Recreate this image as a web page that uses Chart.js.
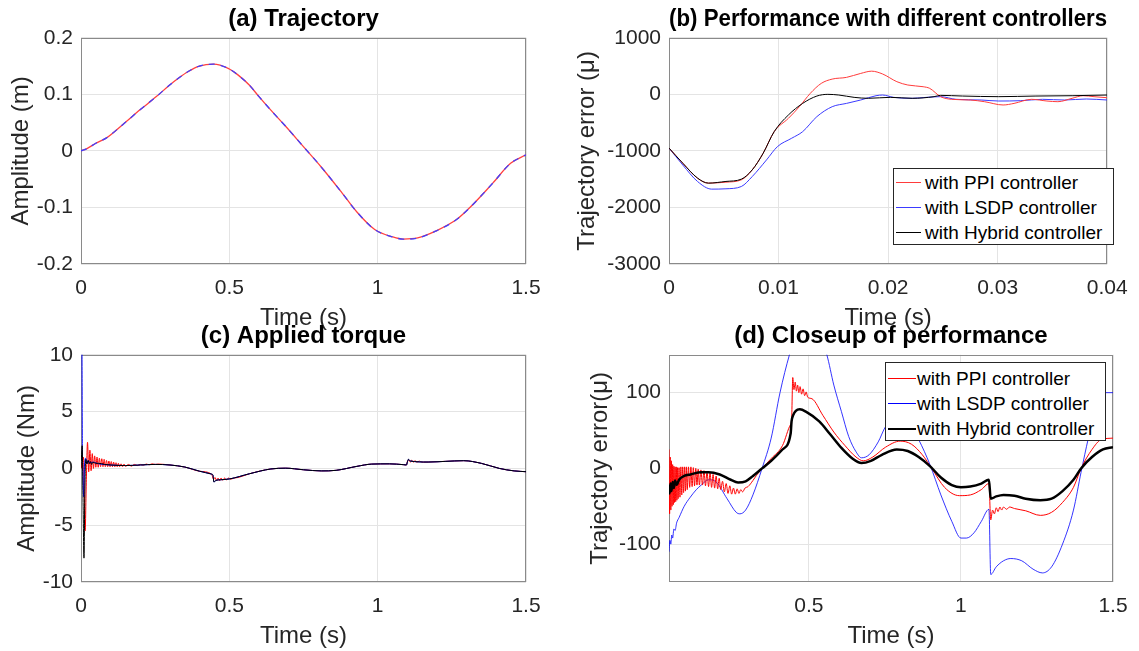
<!DOCTYPE html>
<html>
<head>
<meta charset="utf-8">
<script src="https://cdn.jsdelivr.net/npm/chart.js@4/dist/chart.umd.min.js"></script>
<style>
  body { margin: 0; background: #fff; width: 1139px; height: 651px; overflow: hidden; position: relative;
         font-family: "Liberation Sans", Arial, Helvetica, sans-serif; }
  canvas.panel { position: absolute; }
  .legend { position: absolute; background: #fff; border: 1px solid #262626; box-sizing: border-box;
            font-size: 19px; color: #000; white-space: nowrap; }
  .legend .row { height: 25px; display: flex; align-items: center; }
  .legend .swatch { display: inline-block; height: 0; }
</style>
</head>
<body>
<canvas id="trajectory" class="panel"></canvas>
<canvas id="controllers" class="panel"></canvas>
<canvas id="torque" class="panel"></canvas>
<canvas id="closeup" class="panel"></canvas>
<div id="legendB" class="legend" style="left:893px;top:168px;width:221px;height:77px;padding:1px 0 0 2px"></div>
<div id="legendD" class="legend" style="left:885px;top:362px;width:221px;height:79px;padding:3px 0 0 2px"></div>
<script>
// ---- tick values ----
const timeTicks = [0, 0.5, 1, 1.5];
const posTicks = [-0.2, -0.1, 0, 0.1, 0.2];
const shortTimeTicks = [0, 0.01, 0.02, 0.03, 0.04];
const errTicks = [-3000, -2000, -1000, 0, 1000];
const torqueTicks = [-10, -5, 0, 5, 10];
const closeTimeTicks = [0.5, 1, 1.5];
const closeErrTicks = [-100, 0, 100];

// (a) trajectory: [t (s), position (m)]
const trajectory = [[0,0],[0.02,0.004],[0.05,0.0135],[0.086,0.023],[0.146,0.049],[0.2,0.073],[0.254,0.096],
  [0.3,0.117],[0.327,0.128],[0.36,0.14],[0.399,0.15],[0.447,0.1535],[0.496,0.146],[0.53,0.134],[0.568,0.116],
  [0.6,0.096],[0.64,0.072],[0.689,0.044],[0.749,0.008],[0.809,-0.028],[0.881,-0.075],[0.93,-0.108],[0.99,-0.139],
  [1.05,-0.152],[1.086,-0.156],[1.135,-0.154],[1.195,-0.142],[1.267,-0.121],[1.315,-0.098],[1.388,-0.057],
  [1.448,-0.022],[1.5,-0.007]];

// (b) trajectory error over the first 40 ms: [t (s), error]
const ppiError = [[0,-950],[0.00126,-1218],[0.0026,-1482],[0.0036,-1570],[0.0052,-1553],[0.0066,-1512],
  [0.0076,-1335],[0.0086,-1040],[0.0096,-660],[0.0109,-424],[0.0119,-218],[0.0129,18],[0.0139,194],[0.0149,270],
  [0.0162,300],[0.0175,370],[0.0185,410],[0.0195,360],[0.0208,224],[0.0218,165],[0.0232,135],[0.0238,106],
  [0.0248,-41],[0.0258,-88],[0.0275,-100],[0.0288,-130],[0.0305,-188],[0.0315,-160],[0.0331,-88],[0.0345,-118],
  [0.0355,-130],[0.0368,-70],[0.0378,-24],[0.0388,-41],[0.04,-60]];
const lsdpError = [[0,-950],[0.00126,-1250],[0.0026,-1540],[0.0039,-1676],[0.0052,-1670],[0.0066,-1630],
  [0.0076,-1453],[0.0089,-1160],[0.0099,-924],[0.0112,-776],[0.0122,-660],[0.0135,-394],[0.0149,-218],
  [0.0162,-160],[0.0175,-100],[0.0189,-24],[0.0195,-12],[0.0205,-53],[0.0222,-70],[0.0235,-53],[0.0248,-41],
  [0.0262,-88],[0.0285,-100],[0.0301,-118],[0.0321,-112],[0.0341,-88],[0.0361,-100],[0.0381,-82],[0.04,-100]];
const hybridError = [[0,-950],[0.00126,-1218],[0.0026,-1480],[0.0036,-1570],[0.0052,-1540],[0.0066,-1500],
  [0.0076,-1335],[0.0086,-1040],[0.0096,-660],[0.0109,-365],[0.0122,-160],[0.0135,-30],[0.0145,0],[0.0155,-12],
  [0.0169,-53],[0.0182,-70],[0.0202,-53],[0.0222,-70],[0.0242,-41],[0.0248,-18],[0.0268,-30],[0.0301,-41],
  [0.0335,-30],[0.0368,-24],[0.04,-12]];

// (c) applied torque: [t (s), torque (Nm)]
const ppiTorque = [[0,0],[0.004,0.5],[0.008,1.0],[0.011,-2],[0.014,-5.5],[0.018,-1],[0.022,2.3],[0.026,-0.3],
  [0.03,1.6],[0.034,-0.2],[0.038,1.3],[0.042,0],[0.046,1.1],[0.05,0.1],[0.054,1.0],[0.058,0.1],[0.062,0.9],
  [0.066,0.15],[0.07,0.85],[0.074,0.15],[0.078,0.8],[0.082,0.15],[0.086,0.7],[0.09,0.15],[0.094,0.65],
  [0.098,0.15],[0.102,0.6],[0.106,0.15],[0.11,0.55],[0.114,0.15],[0.118,0.5],[0.122,0.15],[0.126,0.45],
  [0.13,0.15],[0.135,0.4],[0.14,0.15],[0.145,0.38],[0.15,0.18],[0.16,0.35],[0.17,0.2],[0.18,0.35],[0.19,0.25],
  [0.2,0.35],[0.21,0.28],[0.22,0.38],[0.23,0.32],[0.24,0.4],[0.25,0.35],[0.26,0.38],
  [0.3,0.3],[0.35,0.12],[0.4,-0.25],[0.44,-0.5],[0.447,-0.95],[0.452,-0.8],[0.457,-1.1],[0.462,-0.85],
  [0.467,-1.1],[0.472,-0.85],[0.478,-1.05],[0.484,-0.85],[0.49,-1.0],[0.497,-0.85],[0.505,-0.95],[0.515,-0.85],
  [0.53,-0.8],[0.568,-0.47],[0.64,-0.05],[0.69,0.02],[0.75,-0.12],[0.81,-0.22],[0.86,-0.17],[0.93,0.18],
  [0.98,0.38],[1.04,0.4],[1.086,0.33],[1.097,0.3],[1.1,0.6],[1.105,0.75],[1.11,0.55],[1.115,0.72],[1.12,0.55],
  [1.126,0.68],[1.132,0.55],[1.14,0.64],[1.15,0.55],[1.17,0.56],[1.23,0.62],[1.29,0.68],[1.35,0.44],[1.41,0],
  [1.46,-0.22],[1.5,-0.29]];
const lsdpTorqueStart = [[0,11],[0.003,11],[0.0045,2],[0.006,0],[0.009,-2.5],[0.012,0.3],[0.016,0.9],[0.02,0.4],
  [0.025,0.7],[0.03,0.5],[0.04,0.55],[0.06,0.4],[0.1,0.3],[0.15,0.25],[0.2,0.3],[0.25,0.35]];
const hybridTorqueStart = [[0,0],[0.004,2],[0.007,-3],[0.01,-7.9],[0.013,-2],[0.016,0.8],[0.02,0.4],[0.024,0.7],
  [0.028,0.4],[0.032,0.6],[0.036,0.35],[0.04,0.55],[0.05,0.45],[0.06,0.45],[0.08,0.35],[0.1,0.3],[0.15,0.25],
  [0.2,0.3],[0.25,0.35]];
const torqueTail = [[0.3,0.3],[0.35,0.12],[0.4,-0.25],[0.44,-0.5],[0.445,-0.6],[0.448,-1.2],[0.455,-1.05],
  [0.47,-1.0],[0.5,-0.93],[0.568,-0.47],[0.64,-0.05],[0.69,0.02],[0.75,-0.12],[0.81,-0.22],[0.86,-0.17],
  [0.93,0.18],[0.98,0.38],[1.04,0.4],[1.086,0.33],[1.097,0.3],[1.1,0.55],[1.104,0.8],[1.11,0.65],[1.17,0.56],
  [1.23,0.62],[1.29,0.68],[1.35,0.44],[1.41,0],[1.46,-0.22],[1.5,-0.29]];

// (d) closeup of the trajectory error: [t (s), error]
const ppiClose = [[0.04,25],[0.042,-60],[0.044,15],[0.046,-55],[0.048,10],[0.05,-50],[0.052,5],[0.054,-48],
  [0.056,3],[0.058,-45],[0.06,2],[0.062,-44],[0.064,2],[0.066,-42],[0.068,1],[0.07,-40],[0.073,1],[0.076,-38],
  [0.079,2],[0.082,-35],[0.085,2],[0.088,-32],[0.091,2],[0.094,-30],[0.097,2],[0.1,-28],[0.104,2],[0.108,-25],
  [0.112,2],[0.116,-24],[0.12,1],[0.124,-23],[0.128,0],[0.132,-22],[0.136,-1],[0.14,-22],[0.145,-2],[0.15,-22],
  [0.155,-3],[0.16,-23],[0.165,-4],[0.17,-24],[0.175,-6],[0.18,-25],[0.185,-8],[0.19,-26],[0.195,-10],[0.2,-27],
  [0.205,-13],[0.21,-28],[0.216,-17],[0.222,-31],[0.228,-20],[0.234,-33],[0.24,-23],[0.246,-34],[0.252,-26],
  [0.258,-34],[0.264,-27],[0.27,-33],[0.276,-28],[0.282,-31],[0.29,-26],[0.3,-24],[0.316,-16],[0.328,-9],
  [0.346,0],[0.376,13],[0.413,30],[0.44,58],[0.443,62],[0.447,120],[0.451,104],[0.455,114],[0.459,102],
  [0.463,110],[0.467,100],[0.471,108],[0.476,98],[0.481,105],[0.486,96],[0.491,101],[0.496,94],[0.51,92],
  [0.546,70],[0.582,48],[0.619,30],[0.655,15],[0.679,10],[0.71,15],[0.752,28],[0.8,36],[0.837,32],[0.873,18],
  [0.904,0],[0.946,-25],[0.995,-36],[1.031,-35],[1.067,-28],[1.092,-20],[1.098,-68],[1.104,-55],[1.11,-60],
  [1.116,-52],[1.122,-57],[1.128,-51],[1.134,-55],[1.14,-51],[1.15,-54],[1.16,-51],[1.176,-53],[1.213,-56],
  [1.261,-62],[1.298,-58],[1.334,-45],[1.37,-25],[1.395,0],[1.431,25],[1.461,38],[1.5,40]];
const lsdpClose = [[0.04,-110],[0.043,-95],[0.046,-100],[0.049,-88],[0.052,-92],[0.056,-80],[0.06,-82],
  [0.065,-72],[0.073,-65],[0.09,-50],[0.11,-38],[0.13,-28],[0.146,-22],[0.17,-15],[0.195,-18],[0.231,-40],
  [0.261,-58],[0.273,-60],[0.292,-55],[0.316,-35],[0.346,0],[0.376,40],[0.405,100],[0.436,150],[0.46,180],
  [0.5,192],[0.53,180],[0.559,150],[0.582,110],[0.607,75],[0.631,42],[0.655,22],[0.673,14],[0.698,18],
  [0.728,35],[0.752,55],[0.78,64],[0.81,64],[0.84,52],[0.861,38],[0.898,5],[0.934,-35],[0.97,-70],[1.0,-92],
  [1.018,-92],[1.043,-85],[1.067,-70],[1.092,-54],[1.098,-140],[1.116,-130],[1.14,-122],[1.164,-119],
  [1.2,-122],[1.237,-133],[1.268,-138],[1.298,-130],[1.334,-100],[1.37,-55],[1.395,-5],[1.419,40],[1.443,80],
  [1.47,100],[1.5,100]];
const hybridClose = [[0.04,-22],[0.042,-33],[0.045,-20],[0.048,-30],[0.052,-18],[0.056,-26],[0.06,-16],
  [0.065,-22],[0.073,-15],[0.09,-10],[0.11,-8],[0.146,-5],[0.17,-5],[0.207,-8],[0.243,-15],[0.267,-18.5],
  [0.292,-17],[0.316,-10],[0.346,0],[0.376,10],[0.413,25],[0.44,46],[0.443,62],[0.448,70],[0.457,76],
  [0.47,78],[0.49,75],[0.534,62],[0.57,45],[0.607,27],[0.643,13],[0.673,7],[0.704,10],[0.74,18],[0.789,25],
  [0.825,23],[0.861,15],[0.898,3],[0.934,-12],[0.97,-22],[1.0,-25],[1.031,-24],[1.067,-20],[1.092,-15],
  [1.098,-40],[1.116,-37],[1.14,-35],[1.176,-36],[1.213,-40],[1.261,-42],[1.298,-40],[1.334,-30],[1.37,-15],
  [1.395,0],[1.431,15],[1.467,25],[1.5,28]];

const FONT = '"Liberation Sans", Arial, Helvetica, sans-serif';
Chart.defaults.font.family = FONT;

// box around the plot area, like a matlab axes
const frame = {
  id: 'frame',
  beforeDatasetsDraw(chart) {
    const a = chart.chartArea, ctx = chart.ctx;
    ctx.save();
    ctx.strokeStyle = '#8a8a8a';
    ctx.lineWidth = 1;
    ctx.strokeRect(Math.round(a.left) + 0.5, Math.round(a.top) + 0.5,
                   Math.round(a.right - a.left) - 1, Math.round(a.bottom - a.top) - 1);
    ctx.restore();
  }
};

function series(label, pts, color, width, order, extra){
  return Object.assign({
    label: label,
    data: pts.map(p => ({x: p[0], y: p[1]})),
    borderColor: color,
    borderWidth: width,
    pointRadius: 0,
    fill: false,
    cubicInterpolationMode: 'monotone',
    clip: 0,
    order: order
  }, extra || {});
}

function axis(min, max, ticks, label, isY, yWidth, titlePad){
  return {
    type: 'linear', min: min, max: max,
    afterBuildTicks: s => { s.ticks = ticks.map(v => ({value: v})); },
    // fixed axis sizes so the four plot boxes line up
    afterFit: isY ? (s => { s.width = yWidth; }) : (s => { s.height = 69; }),
    grid: {color: '#e4e4e4', drawTicks: false},
    border: {display: false},
    ticks: {color: '#262626', font: {size: 21}, padding: isY ? 8 : 11.4, callback: v => String(v)},
    title: {display: true, text: label, color: '#262626', font: {size: 24},
            padding: isY ? {top: titlePad, bottom: 0} : {top: 4, bottom: 0}}
  };
}

function makeChart(id, o){
  const cv = document.getElementById(id);
  cv.width = o.w; cv.height = o.h;
  cv.style.left = o.left + 'px'; cv.style.top = o.top + 'px';
  return new Chart(cv.getContext('2d'), {
    type: 'line',
    data: {datasets: o.datasets},
    options: {
      responsive: false,
      animation: false,
      events: [],
      layout: {padding: {left: 0, right: o.padRight, top: 0, bottom: 0}},
      plugins: {
        legend: {display: false},
        tooltip: {enabled: false},
        title: {display: true, text: o.title, fullSize: false, color: '#000',
                font: {size: 24, weight: 'bold'}, padding: {top: 5, bottom: 4}}
      },
      scales: {
        x: axis(o.x[0], o.x[1], o.xTicks, 'Time (s)', false),
        y: axis(o.y[0], o.y[1], o.yTicks, o.yLabel, true, o.yWidth, o.yTitlePad)
      }
    },
    plugins: [frame]
  });
}

function fillLegend(chart, el, swatchW, gap){
  chart.data.datasets.forEach(ds => {
    const row = document.createElement('div');
    row.className = 'row';
    const sw = document.createElement('span');
    sw.className = 'swatch';
    sw.style.width = swatchW + 'px';
    sw.style.borderTop = Math.max(1, ds.borderWidth) + 'px solid ' + ds.borderColor;
    const txt = document.createElement('span');
    txt.style.marginLeft = gap + 'px';
    txt.textContent = ds.label;
    row.appendChild(sw); row.appendChild(txt);
    el.appendChild(row);
  });
}

makeChart('trajectory', {
  left: 0, top: 0, w: 556, h: 333, padRight: 30,
  title: '(a) Trajectory',
  x: [0, 1.5], xTicks: timeTicks,
  y: [-0.2, 0.2], yTicks: posTicks, yLabel: 'Amplitude (m)', yWidth: 81, yTitlePad: 7,
  datasets: [
    series('reference', trajectory, '#ff4040', 1.3, 1),
    series('output', trajectory, '#4040ff', 1.3, 0, {borderDash: [6, 6]})
  ]
});

const chartB = makeChart('controllers', {
  left: 566, top: 0, w: 573, h: 333, padRight: 26,
  title: '(b) Performance with different controllers',
  x: [0, 0.04], xTicks: shortTimeTicks,
  y: [-3000, 1000], yTicks: errTicks, yLabel: 'Trajectory error (\u03bc)', yWidth: 103, yTitlePad: 7,
  datasets: [
    series('with PPI controller', ppiError, '#ff3b3b', 1, 1),
    series('with LSDP controller', lsdpError, '#3b3bff', 1, 2),
    series('with Hybrid controller', hybridError, '#000000', 1, 0)
  ]
});

makeChart('torque', {
  left: 0, top: 317, w: 556, h: 334, padRight: 30,
  title: '(c) Applied torque',
  x: [0, 1.5], xTicks: timeTicks,
  y: [-10, 10], yTicks: torqueTicks, yLabel: 'Amplitude (Nm)', yWidth: 81, yTitlePad: 12.5,
  datasets: [
    series('with PPI controller', ppiTorque, '#ff0000', 1, 2),
    series('with LSDP controller', lsdpTorqueStart.concat(torqueTail), '#0000ff', 1, 1),
    series('with Hybrid controller', hybridTorqueStart.concat(torqueTail), '#000000', 1, 0)
  ]
});

const chartD = makeChart('closeup', {
  left: 566, top: 317, w: 573, h: 334, padRight: 26,
  title: '(d) Closeup of performance',
  x: [0.04, 1.5], xTicks: closeTimeTicks,
  y: [-150, 150], yTicks: closeErrTicks, yLabel: 'Trajectory error(\u03bc)', yWidth: 103, yTitlePad: 20,
  datasets: [
    series('with PPI controller', ppiClose, '#ff0000', 1, 1),
    series('with LSDP controller', lsdpClose, '#0000ff', 0.8, 2),
    series('with Hybrid controller', hybridClose, '#000000', 2.5, 0)
  ]
});

fillLegend(chartB, document.getElementById('legendB'), 25, 4);
fillLegend(chartD, document.getElementById('legendD'), 28, 1);
</script>
</body>
</html>
